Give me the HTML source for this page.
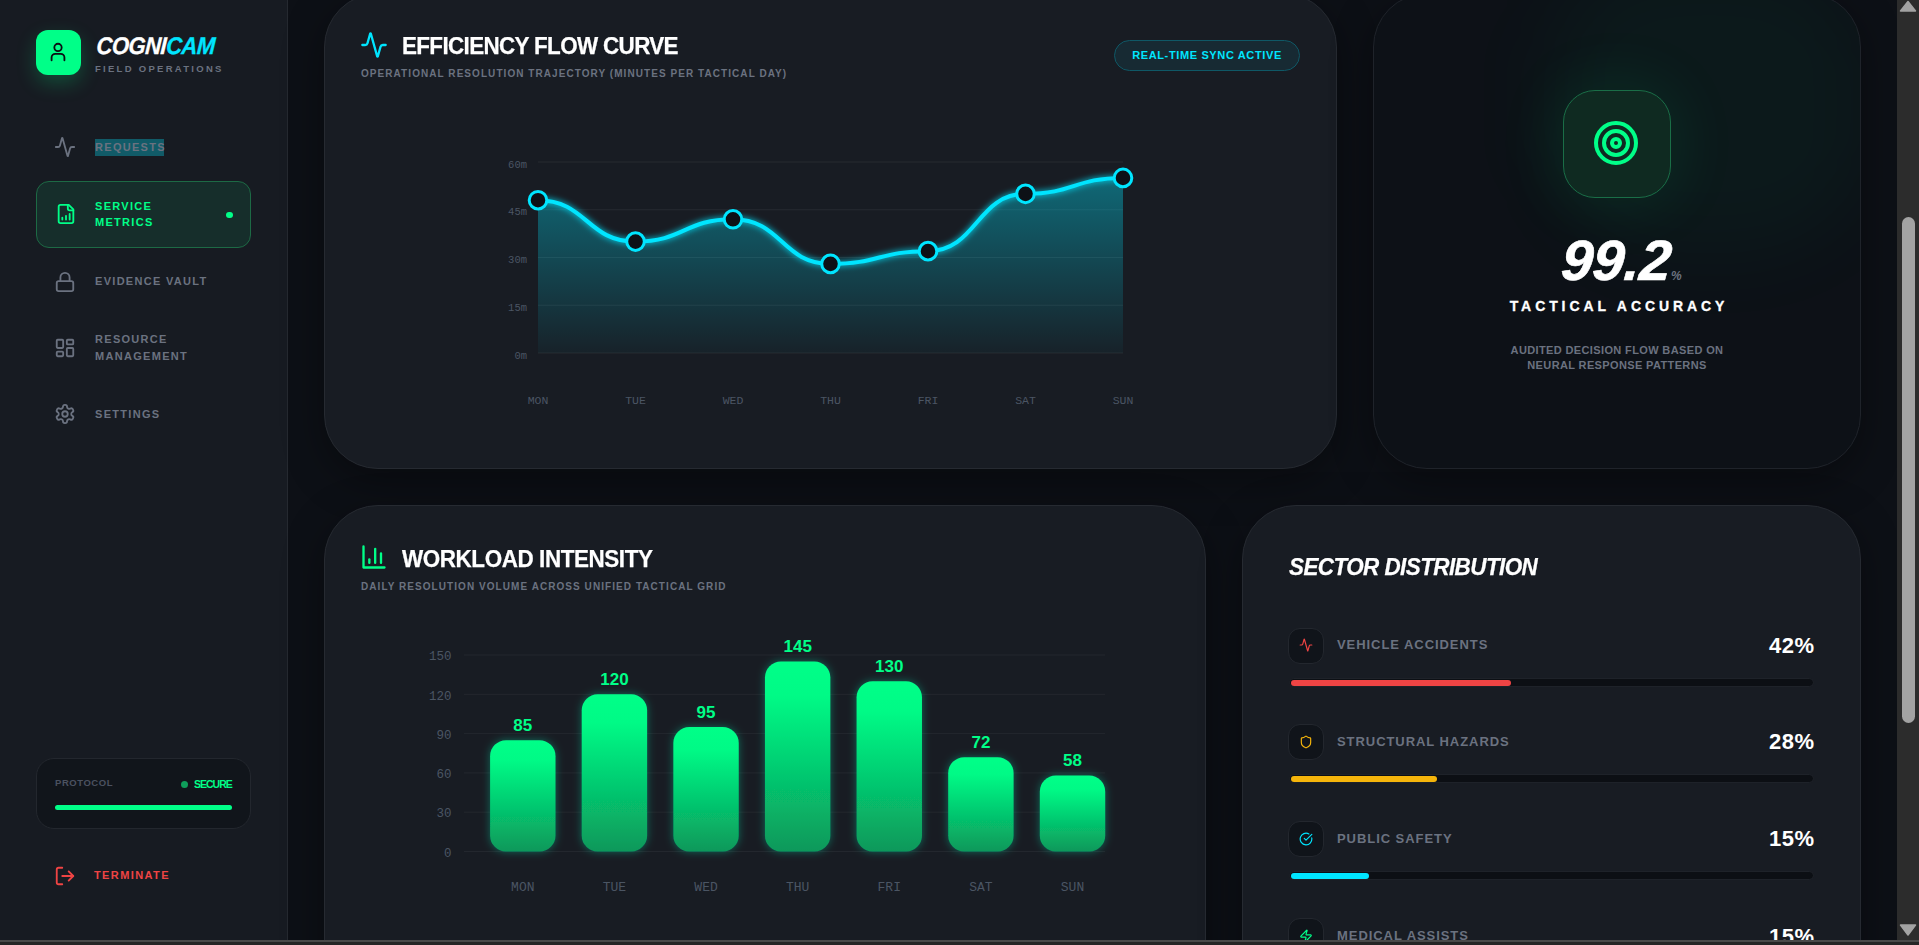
<!DOCTYPE html>
<html><head><meta charset="utf-8"><title>CogniCam</title>
<style>
*{box-sizing:border-box;margin:0;padding:0}
html,body{width:1919px;height:945px;overflow:hidden;background:#0d1016;font-family:"Liberation Sans",sans-serif}
.abs{position:absolute;white-space:nowrap}
#side{position:absolute;left:0;top:0;width:288px;height:940px;background:#171b22;border-right:1px solid #252930}
.card{position:absolute;border:1px solid #262a31;background:#181c23;border-radius:54px;box-shadow:0 12px 40px rgba(0,0,0,0.35)}
#sb{position:absolute;left:1897px;top:0;width:22px;height:940px;background:#2c2c2c}
#bot{position:absolute;left:0;top:940px;width:1919px;height:5px;background:#262626;border-top:2px solid #4a4a4a}
.nav{position:absolute;left:95px;font-size:11px;font-weight:bold;letter-spacing:1.3px;color:#6b7280;line-height:16.5px;white-space:nowrap}
.ico{position:absolute;fill:none;stroke-width:2;stroke-linecap:round;stroke-linejoin:round}
.ttl{position:absolute;font-size:24px;font-weight:bold;color:#fff;letter-spacing:-0.6px;line-height:28px;white-space:nowrap;transform:scaleX(0.935);transform-origin:0 0;-webkit-text-stroke:0.25px #fff}
.sub{position:absolute;font-size:10px;font-weight:bold;color:#6b7280;letter-spacing:1.06px;line-height:12px;white-space:nowrap}
.tk{font-family:"Liberation Mono",monospace;font-size:11px;fill:#4b5563}
.bl{font-family:"Liberation Sans",sans-serif;font-size:17px;font-weight:bold;fill:#00ff88}
</style></head><body>
<div id="side">
  <div class="abs" style="left:36px;top:30px;width:45px;height:45px;border-radius:12px;background:#00ff88;box-shadow:0 8px 20px rgba(0,255,136,0.22)"></div>
  <svg class="ico" style="left:47px;top:41px" width="22" height="22" viewBox="0 0 24 24" stroke="#0b0f14"><circle cx="12" cy="7" r="4"/><path d="M5 21v-3a4 4 0 0 1 4-4h6a4 4 0 0 1 4 4v3"/></svg>
  <div class="abs" style="left:96px;top:31.5px;font-size:24px;font-weight:bold;font-style:italic;letter-spacing:-0.6px;color:#fff;line-height:28px;-webkit-text-stroke:0.3px #fff;transform:scaleX(0.92) skewX(-4deg);transform-origin:0 80%">COGNI<span style="color:#00e5ff;-webkit-text-stroke:0.3px #00e5ff">CAM</span></div>
  <div class="abs" style="left:95px;top:62.5px;font-size:9.5px;font-weight:bold;letter-spacing:2.28px;color:#6b7280;line-height:11px">FIELD OPERATIONS</div>

  <svg class="ico" style="left:54px;top:136px" width="22" height="22" viewBox="0 0 24 24" stroke="#6b7280"><path d="M22 12h-2.48a2 2 0 0 0-1.93 1.46l-2.35 8.36a.25.25 0 0 1-.48 0L9.24 2.18a.25.25 0 0 0-.48 0l-2.35 8.36A2 2 0 0 1 4.49 12H2"/></svg>
  <div class="abs" style="left:95px;top:139px;width:69px;height:17px;background:#115b68"></div>
  <div class="nav" style="top:139px;line-height:17px">REQUESTS</div>

  <div class="abs" style="left:36px;top:181px;width:215px;height:67px;border-radius:13px;background:#162e2b;border:1px solid #1d6a45"></div>
  <svg class="ico" style="left:55px;top:203px" width="22" height="22" viewBox="0 0 24 24" stroke="#00ff88"><path d="M15 2H6a2 2 0 0 0-2 2v16a2 2 0 0 0 2 2h12a2 2 0 0 0 2-2V7Z"/><path d="M14 2v4a2 2 0 0 0 2 2h4"/><path d="M8 18v-2"/><path d="M12 18v-4"/><path d="M16 18v-6"/></svg>
  <div class="nav" style="top:198px;color:#00ff88;line-height:16px">SERVICE<br>METRICS</div>
  <div class="abs" style="left:226px;top:211.5px;width:6.5px;height:6.5px;border-radius:50%;background:#00ff88"></div>

  <svg class="ico" style="left:54px;top:271px" width="22" height="22" viewBox="0 0 24 24" stroke="#6b7280"><rect x="3" y="11" width="18" height="11" rx="2" ry="2"/><path d="M7 11V7a5 5 0 0 1 10 0v4"/></svg>
  <div class="nav" style="top:273px">EVIDENCE VAULT</div>

  <svg class="ico" style="left:54px;top:337px" width="22" height="22" viewBox="0 0 24 24" stroke="#6b7280"><rect x="3" y="3" width="7" height="9" rx="1"/><rect x="14" y="3" width="7" height="5" rx="1"/><rect x="14" y="12" width="7" height="9" rx="1"/><rect x="3" y="16" width="7" height="5" rx="1"/></svg>
  <div class="nav" style="top:331px">RESOURCE<br>MANAGEMENT</div>

  <svg class="ico" style="left:54px;top:403px" width="22" height="22" viewBox="0 0 24 24" stroke="#6b7280"><path d="M12.22 2h-.44a2 2 0 0 0-2 2v.18a2 2 0 0 1-1 1.73l-.43.25a2 2 0 0 1-2 0l-.15-.08a2 2 0 0 0-2.730.73l-.22.38a2 2 0 0 0 .73 2.73l.15.1a2 2 0 0 1 1 1.72v.51a2 2 0 0 1-1 1.74l-.15.09a2 2 0 0 0-.73 2.73l.22.38a2 2 0 0 0 2.73.73l.15-.08a2 2 0 0 1 2 0l.43.25a2 2 0 0 1 1 1.73V20a2 2 0 0 0 2 2h.44a2 2 0 0 0 2-2v-.18a2 2 0 0 1 1-1.73l.43-.25a2 2 0 0 1 2 0l.15.08a2 2 0 0 0 2.73-.73l.22-.39a2 2 0 0 0-.73-2.73l-.15-.08a2 2 0 0 1-1-1.74v-.5a2 2 0 0 1 1-1.74l.15-.09a2 2 0 0 0 .73-2.73l-.22-.38a2 2 0 0 0-2.73-.73l-.15.08a2 2 0 0 1-2 0l-.43-.25a2 2 0 0 1-1-1.73V4a2 2 0 0 0-2-2z"/><circle cx="12" cy="12" r="3"/></svg>
  <div class="nav" style="top:406px">SETTINGS</div>

  <div class="abs" style="left:36px;top:758px;width:215px;height:71px;border-radius:18px;background:#11151b;border:1px solid #23272e"></div>
  <div class="abs" style="left:55px;top:777px;font-size:9.5px;font-weight:bold;letter-spacing:0.55px;color:#4b5160;line-height:11px">PROTOCOL</div>
  <div class="abs" style="left:181px;top:781px;width:7px;height:7px;border-radius:50%;background:#0f9d5a"></div>
  <div class="abs" style="left:194px;top:778px;font-size:10.5px;font-weight:bold;letter-spacing:-1px;color:#00ff88;line-height:12px">SECURE</div>
  <div class="abs" style="left:55px;top:805px;width:177px;height:5px;border-radius:3px;background:#00ff88"></div>

  <svg class="ico" style="left:54px;top:865px" width="22" height="22" viewBox="0 0 24 24" stroke="#ef4444"><path d="M9 21H5a2 2 0 0 1-2-2V5a2 2 0 0 1 2-2h4"/><polyline points="16 17 21 12 16 7"/><line x1="21" y1="12" x2="9" y2="12"/></svg>
  <div class="nav" style="left:94px;top:867px;color:#ef4444;letter-spacing:1.4px">TERMINATE</div>
</div>


<div class="card" id="c1" style="left:324px;top:-7px;width:1013px;height:476px"></div>
<div class="card" id="c2" style="left:1373px;top:-7px;width:488px;height:476px;background:#0d1117;border-color:#1f232a;overflow:hidden"><div style="position:absolute;left:170px;top:-40px;width:330px;height:300px;border-radius:40%;background:rgba(0,255,136,0.035);filter:blur(40px)"></div></div>
<div class="card" id="c3" style="left:324px;top:505px;width:882px;height:600px"></div>
<div class="card" id="c4" style="left:1242px;top:505px;width:619px;height:600px"></div>


<svg class="ico" style="left:360px;top:31px" width="28" height="28" viewBox="0 0 24 24" stroke="#00e5ff"><path d="M22 12h-2.48a2 2 0 0 0-1.93 1.46l-2.35 8.36a.25.25 0 0 1-.48 0L9.24 2.18a.25.25 0 0 0-.48 0l-2.35 8.36A2 2 0 0 1 4.49 12H2"/></svg>
<div class="ttl" style="left:402px;top:32px;letter-spacing:-0.7px">EFFICIENCY FLOW CURVE</div>
<div class="sub" style="left:361px;top:68px">OPERATIONAL RESOLUTION TRAJECTORY (MINUTES PER TACTICAL DAY)</div>
<div class="abs" style="left:1114px;top:40px;width:186px;height:31px;border-radius:16px;border:1px solid #0f5866;background:#172a33"></div>
<div class="abs" style="left:1114px;top:40px;width:186px;height:31px;line-height:31px;text-align:center;font-size:11px;font-weight:bold;letter-spacing:0.63px;color:#00e5ff">REAL-TIME SYNC ACTIVE</div>
<svg class="abs" style="left:0;top:0;overflow:visible" width="1919" height="945">
<defs><linearGradient id="ag" x1="0" y1="0" x2="0" y2="1"><stop offset="0%" stop-color="#00e5ff" stop-opacity="0.38"/><stop offset="100%" stop-color="#00e5ff" stop-opacity="0.03"/></linearGradient>
<filter id="glow" x="-10%" y="-50%" width="120%" height="200%"><feGaussianBlur stdDeviation="3" result="b"/><feMerge><feMergeNode in="b"/><feMergeNode in="SourceGraphic"/></feMerge></filter></defs>
<line x1="538" y1="162.00" x2="1123" y2="162.00" stroke="#ffffff" stroke-opacity="0.065" stroke-width="1"/>
<line x1="538" y1="209.75" x2="1123" y2="209.75" stroke="#ffffff" stroke-opacity="0.065" stroke-width="1"/>
<line x1="538" y1="257.50" x2="1123" y2="257.50" stroke="#ffffff" stroke-opacity="0.065" stroke-width="1"/>
<line x1="538" y1="305.25" x2="1123" y2="305.25" stroke="#ffffff" stroke-opacity="0.065" stroke-width="1"/>
<line x1="538" y1="353.00" x2="1123" y2="353.00" stroke="#ffffff" stroke-opacity="0.065" stroke-width="1"/>
<path d="M538.00,200.20C586.75,200.20,586.75,241.58,635.50,241.58C684.25,241.58,684.25,219.30,733.00,219.30C781.75,219.30,781.75,263.87,830.50,263.87C879.25,263.87,879.25,251.13,928.00,251.13C976.75,251.13,976.75,193.83,1025.50,193.83C1074.25,193.83,1074.25,177.92,1123.00,177.92L1123.00,353L538.00,353Z" fill="url(#ag)"/>
<path d="M538.00,200.20C586.75,200.20,586.75,241.58,635.50,241.58C684.25,241.58,684.25,219.30,733.00,219.30C781.75,219.30,781.75,263.87,830.50,263.87C879.25,263.87,879.25,251.13,928.00,251.13C976.75,251.13,976.75,193.83,1025.50,193.83C1074.25,193.83,1074.25,177.92,1123.00,177.92" fill="none" stroke="#00e5ff" stroke-width="4" filter="url(#glow)"/>
<circle cx="538.00" cy="200.20" r="8.8" fill="#0d1117" stroke="#00e5ff" stroke-width="3"/>
<circle cx="635.50" cy="241.58" r="8.8" fill="#0d1117" stroke="#00e5ff" stroke-width="3"/>
<circle cx="733.00" cy="219.30" r="8.8" fill="#0d1117" stroke="#00e5ff" stroke-width="3"/>
<circle cx="830.50" cy="263.87" r="8.8" fill="#0d1117" stroke="#00e5ff" stroke-width="3"/>
<circle cx="928.00" cy="251.13" r="8.8" fill="#0d1117" stroke="#00e5ff" stroke-width="3"/>
<circle cx="1025.50" cy="193.83" r="8.8" fill="#0d1117" stroke="#00e5ff" stroke-width="3"/>
<circle cx="1123.00" cy="177.92" r="8.8" fill="#0d1117" stroke="#00e5ff" stroke-width="3"/>
<text x="527" y="167.50" text-anchor="end" class="tk" style="font-size:10.5px">60m</text>
<text x="527" y="215.25" text-anchor="end" class="tk" style="font-size:10.5px">45m</text>
<text x="527" y="263.00" text-anchor="end" class="tk" style="font-size:10.5px">30m</text>
<text x="527" y="310.75" text-anchor="end" class="tk" style="font-size:10.5px">15m</text>
<text x="527" y="358.50" text-anchor="end" class="tk" style="font-size:10.5px">0m</text>
<text x="538.00" y="404.3" text-anchor="middle" class="tk" style="font-size:11.5px">MON</text>
<text x="635.50" y="404.3" text-anchor="middle" class="tk" style="font-size:11.5px">TUE</text>
<text x="733.00" y="404.3" text-anchor="middle" class="tk" style="font-size:11.5px">WED</text>
<text x="830.50" y="404.3" text-anchor="middle" class="tk" style="font-size:11.5px">THU</text>
<text x="928.00" y="404.3" text-anchor="middle" class="tk" style="font-size:11.5px">FRI</text>
<text x="1025.50" y="404.3" text-anchor="middle" class="tk" style="font-size:11.5px">SAT</text>
<text x="1123.00" y="404.3" text-anchor="middle" class="tk" style="font-size:11.5px">SUN</text>
</svg>

<div class="abs" style="left:1563px;top:90px;width:108px;height:108px;border-radius:32px;background:#0f2a21;border:1.5px solid #1a6e47;box-shadow:0 0 70px rgba(0,255,136,0.11)"></div>
<svg class="ico" style="left:1592px;top:119px" width="48" height="48" viewBox="0 0 24 24" stroke="#00ff88"><circle cx="12" cy="12" r="10"/><circle cx="12" cy="12" r="6"/><circle cx="12" cy="12" r="2"/></svg>
<div class="abs" id="n99" style="left:1560px;top:228px;line-height:64px;color:#fff;font-size:57px;font-weight:bold;font-style:italic;letter-spacing:-0.3px;transform:skewX(-5deg);transform-origin:0 80%;-webkit-text-stroke:0.6px #fff">99.2</div>
<div class="abs" style="left:1671px;top:267.5px;line-height:16px;color:#6b7280;font-size:12px;font-weight:bold;font-style:italic">%</div>
<div class="abs" style="left:1373px;width:488px;top:297px;text-align:center;line-height:18px;color:#fff;font-size:14px;font-weight:bold;letter-spacing:3.9px;text-indent:3.9px;-webkit-text-stroke:0.3px #fff">TACTICAL ACCURACY</div>
<div class="abs" style="left:1373px;width:488px;top:342.5px;text-align:center;line-height:15px;color:#6b7280;font-size:11px;font-weight:bold;letter-spacing:0.37px">AUDITED DECISION FLOW BASED ON<br>NEURAL RESPONSE PATTERNS</div>


<svg class="ico" style="left:360px;top:543px" width="28" height="28" viewBox="0 0 24 24" stroke="#00ff88"><path d="M3 3v18h18"/><path d="M18 17V9"/><path d="M13 17V5"/><path d="M8 17v-3"/></svg>
<div class="ttl" style="left:402px;top:544.5px;letter-spacing:-0.45px">WORKLOAD INTENSITY</div>
<div class="sub" style="left:361px;top:580.5px">DAILY RESOLUTION VOLUME ACROSS UNIFIED TACTICAL GRID</div>
<svg class="abs" style="left:0;top:0;overflow:visible" width="1919" height="945">
<defs><linearGradient id="bgr" x1="0" y1="0" x2="0" y2="1"><stop offset="0%" stop-color="#00ff88"/><stop offset="18%" stop-color="#00fa86"/><stop offset="100%" stop-color="#0a985a"/></linearGradient>
<filter id="bglow" x="-30%" y="-30%" width="160%" height="160%"><feGaussianBlur stdDeviation="4" result="b"/><feColorMatrix in="b" type="matrix" values="0 0 0 0 0  0 0 0 0 1  0 0 0 0 0.53  0 0 0 0.35 0" result="c"/><feMerge><feMergeNode in="c"/><feMergeNode in="SourceGraphic"/></feMerge></filter></defs>
<line x1="464" y1="851.50" x2="1105" y2="851.50" stroke="#ffffff" stroke-opacity="0.05" stroke-width="1"/>
<text x="451.5" y="856.70" text-anchor="end" class="tk" style="font-size:12.5px">0</text>
<line x1="464" y1="812.20" x2="1105" y2="812.20" stroke="#ffffff" stroke-opacity="0.05" stroke-width="1"/>
<text x="451.5" y="817.40" text-anchor="end" class="tk" style="font-size:12.5px">30</text>
<line x1="464" y1="772.90" x2="1105" y2="772.90" stroke="#ffffff" stroke-opacity="0.05" stroke-width="1"/>
<text x="451.5" y="778.10" text-anchor="end" class="tk" style="font-size:12.5px">60</text>
<line x1="464" y1="733.60" x2="1105" y2="733.60" stroke="#ffffff" stroke-opacity="0.05" stroke-width="1"/>
<text x="451.5" y="738.80" text-anchor="end" class="tk" style="font-size:12.5px">90</text>
<line x1="464" y1="694.30" x2="1105" y2="694.30" stroke="#ffffff" stroke-opacity="0.05" stroke-width="1"/>
<text x="451.5" y="699.50" text-anchor="end" class="tk" style="font-size:12.5px">120</text>
<line x1="464" y1="655.00" x2="1105" y2="655.00" stroke="#ffffff" stroke-opacity="0.05" stroke-width="1"/>
<text x="451.5" y="660.20" text-anchor="end" class="tk" style="font-size:12.5px">150</text>
<rect x="490.10" y="740.15" width="65.4" height="111.35" rx="16" fill="url(#bgr)" filter="url(#bglow)"/>
<text x="522.80" y="730.65" text-anchor="middle" class="bl">85</text>
<text x="522.80" y="891" text-anchor="middle" class="tk" style="font-size:13px">MON</text>
<rect x="581.72" y="694.30" width="65.4" height="157.20" rx="16" fill="url(#bgr)" filter="url(#bglow)"/>
<text x="614.42" y="684.80" text-anchor="middle" class="bl">120</text>
<text x="614.42" y="891" text-anchor="middle" class="tk" style="font-size:13px">TUE</text>
<rect x="673.34" y="727.05" width="65.4" height="124.45" rx="16" fill="url(#bgr)" filter="url(#bglow)"/>
<text x="706.04" y="717.55" text-anchor="middle" class="bl">95</text>
<text x="706.04" y="891" text-anchor="middle" class="tk" style="font-size:13px">WED</text>
<rect x="764.96" y="661.55" width="65.4" height="189.95" rx="16" fill="url(#bgr)" filter="url(#bglow)"/>
<text x="797.66" y="652.05" text-anchor="middle" class="bl">145</text>
<text x="797.66" y="891" text-anchor="middle" class="tk" style="font-size:13px">THU</text>
<rect x="856.58" y="681.20" width="65.4" height="170.30" rx="16" fill="url(#bgr)" filter="url(#bglow)"/>
<text x="889.28" y="671.70" text-anchor="middle" class="bl">130</text>
<text x="889.28" y="891" text-anchor="middle" class="tk" style="font-size:13px">FRI</text>
<rect x="948.20" y="757.18" width="65.4" height="94.32" rx="16" fill="url(#bgr)" filter="url(#bglow)"/>
<text x="980.90" y="747.68" text-anchor="middle" class="bl">72</text>
<text x="980.90" y="891" text-anchor="middle" class="tk" style="font-size:13px">SAT</text>
<rect x="1039.82" y="775.52" width="65.4" height="75.98" rx="16" fill="url(#bgr)" filter="url(#bglow)"/>
<text x="1072.52" y="766.02" text-anchor="middle" class="bl">58</text>
<text x="1072.52" y="891" text-anchor="middle" class="tk" style="font-size:13px">SUN</text>
</svg>
<div class="ttl" style="left:1289px;top:553px;font-style:italic;letter-spacing:-0.6px">SECTOR DISTRIBUTION</div>
<div class="abs" style="left:1288px;top:628.0px;width:36px;height:36px;border-radius:12px;background:#10141a;border:1px solid #23272e"></div>
<svg class="ico" style="left:1299px;top:638.3px" width="14" height="14" viewBox="0 0 24 24" stroke="#ef4444"><path d="M22 12h-2.48a2 2 0 0 0-1.93 1.46l-2.35 8.36a.25.25 0 0 1-.48 0L9.24 2.18a.25.25 0 0 0-.48 0l-2.35 8.36A2 2 0 0 1 4.49 12H2"/></svg>
<div class="abs" style="left:1337px;top:636.7px;font-size:13px;font-weight:bold;letter-spacing:0.94px;color:#6b7280;line-height:15px">VEHICLE ACCIDENTS</div>
<div class="abs" style="left:1700px;width:114.5px;text-align:right;top:633.5px;font-size:22px;font-weight:bold;color:#fff;line-height:24px;letter-spacing:0.5px">42%</div>
<div class="abs" style="left:1289px;top:678.3px;width:525px;height:9px;border-radius:5px;background:#0c0f14;border:1px solid #1e2229"></div>
<div class="abs" style="left:1290.5px;top:680.2px;width:220.1px;height:5.5px;border-radius:3px;background:#ef4444"></div>
<div class="abs" style="left:1288px;top:724.0px;width:36px;height:36px;border-radius:12px;background:#10141a;border:1px solid #23272e"></div>
<svg class="ico" style="left:1299px;top:735.0px" width="14" height="14" viewBox="0 0 24 24" stroke="#f5b50b"><path d="M20 13c0 5-3.5 7.5-7.66 8.950a1 1 0 0 1-.67-.01C7.5 20.5 4 18 4 13V6a1 1 0 0 1 1-1c2 0 4.5-1.2 6.24-2.72a1.170 1.170 0 0 1 1.52 0C14.510 3.810 17 5 19 5a1 1 0 0 1 1 1z"/></svg>
<div class="abs" style="left:1337px;top:733.5px;font-size:13px;font-weight:bold;letter-spacing:0.94px;color:#6b7280;line-height:15px">STRUCTURAL HAZARDS</div>
<div class="abs" style="left:1700px;width:114.5px;text-align:right;top:730.3px;font-size:22px;font-weight:bold;color:#fff;line-height:24px;letter-spacing:0.5px">28%</div>
<div class="abs" style="left:1289px;top:774.3px;width:525px;height:9px;border-radius:5px;background:#0c0f14;border:1px solid #1e2229"></div>
<div class="abs" style="left:1290.5px;top:776.2px;width:146.7px;height:5.5px;border-radius:3px;background:#f5b50b"></div>
<div class="abs" style="left:1288px;top:821.0px;width:36px;height:36px;border-radius:12px;background:#10141a;border:1px solid #23272e"></div>
<svg class="ico" style="left:1299px;top:832.0px" width="14" height="14" viewBox="0 0 24 24" stroke="#00e5ff"><path d="M21.801 10A10 10 0 1 1 17 3.335"/><path d="m9 11 3 3L22 4"/></svg>
<div class="abs" style="left:1337px;top:830.5px;font-size:13px;font-weight:bold;letter-spacing:0.94px;color:#6b7280;line-height:15px">PUBLIC SAFETY</div>
<div class="abs" style="left:1700px;width:114.5px;text-align:right;top:827.3px;font-size:22px;font-weight:bold;color:#fff;line-height:24px;letter-spacing:0.5px">15%</div>
<div class="abs" style="left:1289px;top:871.3px;width:525px;height:9px;border-radius:5px;background:#0c0f14;border:1px solid #1e2229"></div>
<div class="abs" style="left:1290.5px;top:873.2px;width:78.6px;height:5.5px;border-radius:3px;background:#00e5ff"></div>
<div class="abs" style="left:1288px;top:918.0px;width:36px;height:36px;border-radius:12px;background:#10141a;border:1px solid #23272e"></div>
<svg class="ico" style="left:1299px;top:929.0px" width="14" height="14" viewBox="0 0 24 24" stroke="#00ff88"><path d="M4 14a1 1 0 0 1-.78-1.63l9.9-10.2a.5.5 0 0 1 .86.46l-1.92 6.02A1 1 0 0 0 13 10h7a1 1 0 0 1 .78 1.63l-9.9 10.2a.5.5 0 0 1-.86-.46l1.92-6.02A1 1 0 0 0 11 14z"/></svg>
<div class="abs" style="left:1337px;top:928.2px;font-size:13px;font-weight:bold;letter-spacing:0.94px;color:#6b7280;line-height:15px">MEDICAL ASSISTS</div>
<div class="abs" style="left:1700px;width:114.5px;text-align:right;top:925.0px;font-size:22px;font-weight:bold;color:#fff;line-height:24px;letter-spacing:0.5px">15%</div>
<div class="abs" style="left:1289px;top:968.3px;width:525px;height:9px;border-radius:5px;background:#0c0f14;border:1px solid #1e2229"></div>
<div class="abs" style="left:1290.5px;top:970.2px;width:78.6px;height:5.5px;border-radius:3px;background:#00ff88"></div>

<div id="sb">
  <div class="abs" style="left:5px;top:217px;width:13px;height:506px;border-radius:7px;background:#a3a3a3"></div>
  <svg class="abs" style="left:0;top:0" width="22" height="14"><path d="M11 1.5 L18.5 11 L3.5 11 Z" fill="#a3a3a3" stroke="#a3a3a3" stroke-width="1.5" stroke-linejoin="round"/></svg>
  <svg class="abs" style="left:0;top:923px" width="22" height="14"><path d="M3.5 2 L18.5 2 L11 12 Z" fill="#a3a3a3" stroke="#a3a3a3" stroke-width="1.5" stroke-linejoin="round"/></svg>
</div>
<div id="bot"></div>

</body></html>
